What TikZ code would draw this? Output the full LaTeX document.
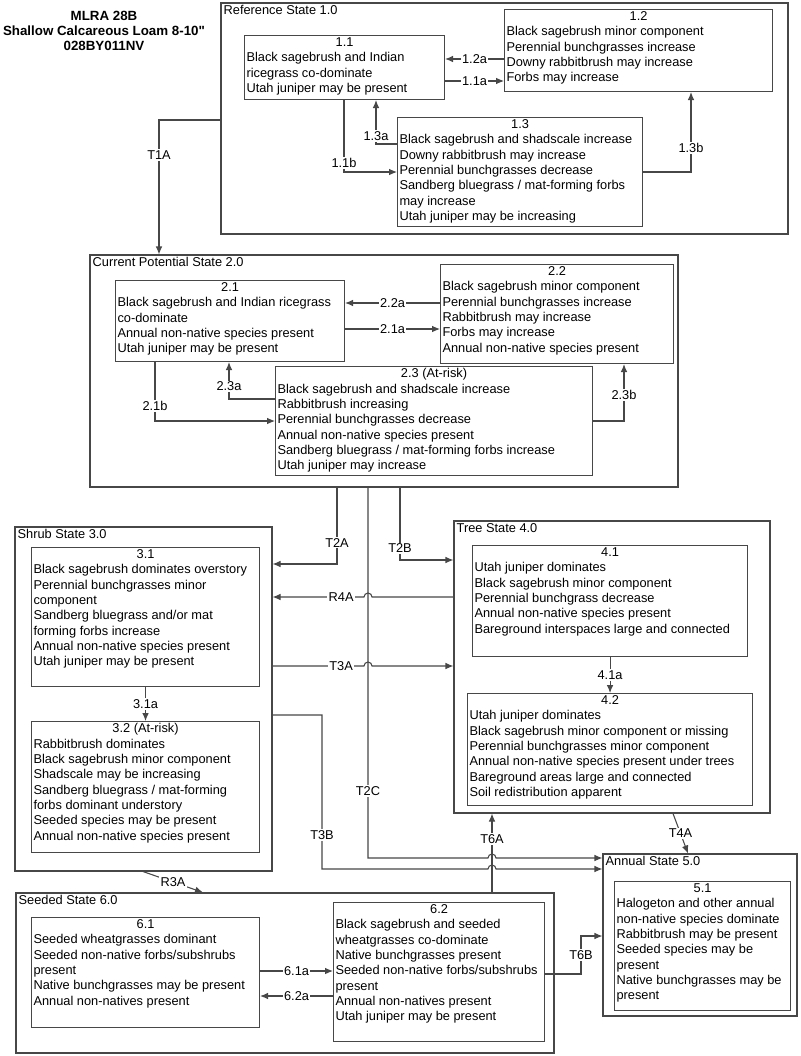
\documentclass[tikz,border=0pt]{standalone}
\usepackage{fontspec}
\setmainfont{Liberation Sans}
\newfontfamily\titlefont{Liberation Sans}
\usetikzlibrary{fit,arrows.meta}
\newdimen\px \px=0.75pt
\newcommand{\phase}[4]{\parbox[t][\dimexpr#2\px-3pt\relax][t]{\dimexpr#1\px-3pt\relax}{\centering#3\par\raggedright#4}}

\begin{document}
\begin{tikzpicture}[x=0.75pt, y=-0.75pt, >={Latex[length=6pt,width=5pt]}, line width=0.8pt,
                    state node/.style={draw=black!72, rectangle, inner sep=0pt},
                    state title/.style={anchor=north west, inner sep=2pt, font=\fontsize{9.6}{11.5}\selectfont},
                    phase node/.style={draw=black!72, rectangle, anchor=north west, inner xsep=1.5pt, inner ysep=1.5pt, font=\fontsize{9.6}{11.5}\selectfont},
                    trans/.style={draw=black!72, ->},
                    trans label/.style={fill=white, inner sep=1pt, font=\fontsize{9.6}{11.5}\selectfont}]
  \useasboundingbox (0,0) rectangle (800,1056);

  \node[align=center, font=\titlefont\bfseries\fontsize{10}{11.3}\selectfont] (head) at (104,31) {MLRA 28B\\Shallow Calcareous Loam 8-10"\\028BY011NV};

  % states
  \node[state node, fit={(221,3) (788,234)}] (ref) {};
  \node[state node, fit={(90,255) (678,487)}] (cur) {};
  \node[state node, fit={(15,527) (272,871)}] (shrub) {};
  \node[state node, fit={(454,521) (770,813)}] (tree) {};
  \node[state node, fit={(603,854) (797,1016)}] (annual) {};
  \node[state node, fit={(16,893) (554,1053)}] (seeded) {};

  \node[state title] (reft) at (ref.north west) {Reference State 1.0};
  \node[state title] (curt) at (cur.north west) {Current Potential State 2.0};
  \node[state title] (shrubt) at (shrub.north west) {Shrub State 3.0};
  \node[state title] (treet) at (tree.north west) {Tree State 4.0};
  \node[state title] (annualt) at (annual.north west) {Annual State 5.0};
  \node[state title] (seededt) at (seeded.north west) {Seeded State 6.0};

  % phases
  \node[phase node] (p11) at (244,35) {\phase{200}{64}{1.1}{Black sagebrush and Indian\\ricegrass co-dominate\\Utah juniper may be present}};
  \node[phase node] (p12) at (504,9) {\phase{268}{82}{1.2}{Black sagebrush minor component\\Perennial bunchgrasses increase\\Downy rabbitbrush may increase\\Forbs may increase}};
  \node[phase node] (p13) at (397,117) {\phase{245}{109}{1.3}{Black sagebrush and shadscale increase\\Downy rabbitbrush may increase\\Perennial bunchgrasses decrease\\Sandberg bluegrass / mat-forming forbs\\may increase\\Utah juniper may be increasing}};
  \node[phase node] (p21) at (115,280) {\phase{229}{81}{2.1}{Black sagebrush and Indian ricegrass\\co-dominate\\Annual non-native species present\\Utah juniper may be present}};
  \node[phase node] (p22) at (440,264) {\phase{233}{99}{2.2}{Black sagebrush minor component\\Perennial bunchgrasses increase\\Rabbitbrush may increase\\Forbs may increase\\Annual non-native species present}};
  \node[phase node] (p23) at (275,366) {\phase{317}{109}{2.3 (At-risk)}{Black sagebrush and shadscale increase\\Rabbitbrush increasing\\Perennial bunchgrasses decrease\\Annual non-native species present\\Sandberg bluegrass / mat-forming forbs increase\\Utah juniper may increase}};
  \node[phase node] (p31) at (31,547) {\phase{228}{139}{3.1}{Black sagebrush dominates overstory\\Perennial bunchgrasses minor\\component\\Sandberg bluegrass and/or mat\\forming forbs increase\\Annual non-native species present\\Utah juniper may be present}};
  \node[phase node] (p32) at (31,721) {\phase{228}{131}{3.2 (At-risk)}{Rabbitbrush dominates\\Black sagebrush minor component\\Shadscale may be increasing\\Sandberg bluegrass / mat-forming\\forbs dominant understory\\Seeded species may be present\\Annual non-native species present}};
  \node[phase node] (p41) at (472,545) {\phase{275}{111}{4.1}{Utah juniper dominates\\Black sagebrush minor component\\Perennial bunchgrass decrease\\Annual non-native species present\\Bareground interspaces large and connected}};
  \node[phase node] (p42) at (467,693) {\phase{285}{112}{4.2}{Utah juniper dominates\\Black sagebrush minor component or missing\\Perennial bunchgrasses minor component\\Annual non-native species present under trees\\Bareground areas large and connected\\Soil redistribution apparent}};
  \node[phase node] (p51) at (614,881) {\phase{176}{129}{5.1}{Halogeton and other annual\\non-native species dominate\\Rabbitbrush may be present\\Seeded species may be\\present\\Native bunchgrasses may be\\present}};
  \node[phase node] (p61) at (31,917) {\phase{228}{110}{6.1}{Seeded wheatgrasses dominant\\Seeded non-native forbs/subshrubs\\present\\Native bunchgrasses may be present\\Annual non-natives present}};
  \node[phase node] (p62) at (333,902) {\phase{211}{139}{6.2}{Black sagebrush and seeded\\wheatgrasses co-dominate\\Native bunchgrasses present\\Seeded non-native forbs/subshrubs\\present\\Annual non-natives present\\Utah juniper may be present}};

  % pathways inside states
  \draw[trans] (p12.west |- 0,59) -- node[trans label] {1.2a} (p11.east |- 0,59);
  \draw[trans] (p11.east |- 0,81) -- node[trans label] {1.1a} (p12.west |- 0,81);
  \draw[trans] (p13.west |- 0,144) -| node[trans label, pos=0.59] {1.3a} (p11.south -| 376,0);
  \draw[trans] (p11.south -| 344,0) |- node[trans label, pos=0.44] {1.1b} (p13.west |- 0,172);
  \draw[trans] (p13.east |- 0,172) -| node[trans label, pos=0.65] {1.3b} (p12.south -| 691,0);

  \draw[trans] (p22.west |- 0,303) -- node[trans label] {2.2a} (p21.east |- 0,303);
  \draw[trans] (p21.east |- 0,329) -- node[trans label] {2.1a} (p22.west |- 0,329);
  \draw[trans] (p23.west |- 0,399) -| node[trans label, pos=0.67] {2.3a} (p21.south -| 229,0);
  \draw[trans] (p21.south -| 155,0) |- node[trans label, pos=0.375] {2.1b} (p23.west |- 0,421);
  \draw[trans] (p23.east |- 0,421) -| node[trans label, pos=0.73] {2.3b} (p22.south -| 624,0);

  \draw[trans] (p31) -- node[trans label] {3.1a} (p32);
  \draw[trans] (p41) -- node[trans label] {4.1a} (p42);
  \draw[trans] (p61.east |- 0,971) -- node[trans label] {6.1a} (p62.west |- 0,971);
  \draw[trans] (p62.west |- 0,996) -- node[trans label] {6.2a} (p61.east |- 0,996);

  % transitions between states
  \draw[trans] (ref.west |- 0,120) -| node[trans label, pos=0.63] {T1A} (cur.north -| 159,0);
  \draw[trans] (cur.south -| 337,0) |- node[trans label, pos=0.36] {T2A} (shrub.east |- 0,564);
  \draw[trans] (cur.south -| 400,0) |- node[trans label, pos=0.42] {T2B} (tree.west |- 0,560);
  \draw[trans] (cur.south -| 368,0) |- node[trans label, pos=0.41] {T2C} (488,858)
    arc[start angle=180, end angle=360, radius=4] -- (annual.west |- 0,858);
  \draw[trans, <-] (shrub.east |- 0,597) -- node[trans label, pos=0.75] {R4A} (364,597)
    arc[start angle=180, end angle=360, radius=4] -- (tree.west |- 0,597);
  \draw[trans] (shrub.east |- 0,666) -- node[trans label, pos=0.75] {T3A} (364,666)
    arc[start angle=180, end angle=360, radius=4] -- (tree.west |- 0,666);
  \draw[trans] (shrub.east |- 0,715) -| node[trans label, pos=0.89] {T3B} (322,869) -- (488,869)
    arc[start angle=180, end angle=360, radius=4] -- (annual.west |- 0,869);
  \draw[trans] (seeded.north -| 492,0) -- node[trans label, pos=0.675] {T6A} (tree.south -| 492,0);
  \draw[trans] (shrub.south -| 143,0) -- node[trans label] {R3A} (seeded.north -| 203,0);
  \draw[trans] (tree.south -| 673,0) -- node[trans label] {T4A} (annual.north -| 688,0);
  \draw[trans] (p62.east |- 0,974) -| node[trans label, pos=0.75] {T6B} (581,936) -- (annual.west |- 0,936);
\end{tikzpicture}
\end{document}
